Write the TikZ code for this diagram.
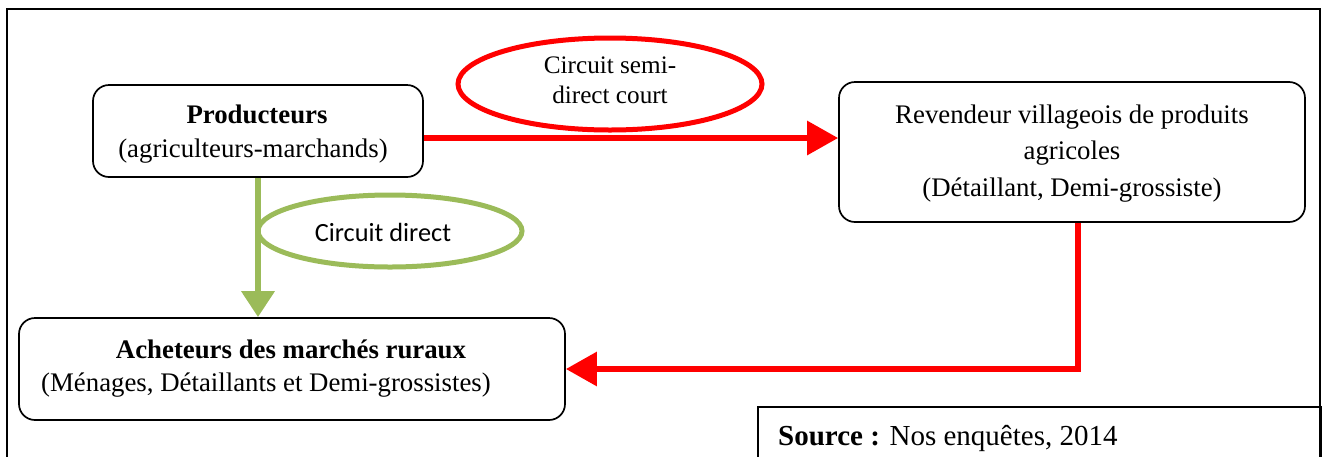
\documentclass[tikz,border=0pt]{standalone}
\usepackage{fontspec}
\setmainfont{Liberation Serif}
\newfontfamily\calibrifont{Carlito}
\usetikzlibrary{arrows.meta,shapes.geometric,calc}
\definecolor{flowred}{HTML}{FF0000}
\definecolor{flowgreen}{HTML}{9BBB59}

\begin{document}
\begin{tikzpicture}[x=1pt,y=-1pt,
  actor/.style={draw=black,line width=1.7pt,rounded corners=16pt,inner sep=0pt},
  boxtext/.style={font=\fontsize{26.8}{32}\selectfont,inner sep=0pt,anchor=base},
  tagtext/.style={font=\fontsize{25.2}{30}\selectfont,inner sep=0pt,anchor=base},
  redflow/.style={draw=flowred,line width=6pt,-{Triangle[length=31pt,width=33pt]}},
  greenflow/.style={draw=flowgreen,line width=6.5pt,-{Triangle[length=26pt,width=32pt]}},
  redtag/.style={ellipse,draw=flowred,line width=5pt,inner sep=0pt},
  greentag/.style={ellipse,draw=flowgreen,line width=5pt,inner sep=0pt}
]
\useasboundingbox (0,0) rectangle (1324,456);
\clip (0,0) rectangle (1324,456);

% outer frame (runs past the lower edge)
\draw[line width=1.8pt] (7,480) -- (7,9) -- (1320,9) -- (1320,480);

% actors
\node[actor,minimum width=330pt,minimum height=92pt] (prod) at (258,131) {};
\node[boxtext] (prodA) at (257,123) {\textbf{Producteurs}};
\node[boxtext] (prodB) at (253,157) {(agriculteurs-marchands)};

\node[actor,minimum width=466pt,minimum height=140pt] (rev) at (1072,152) {};
\node[boxtext] (revA) at (1072,123) {Revendeur villageois de produits};
\node[boxtext] (revB) at (1072,159) {agricoles};
\node[boxtext] (revC) at (1072,196) {(Détaillant, Demi-grossiste)};

\node[actor,minimum width=546pt,minimum height=102pt] (ach) at (292,369) {};
\node[boxtext] (achA) at (291,358) {\textbf{Acheteurs des marchés ruraux}};
\node[boxtext] (achB) at (266,391) {(Ménages, Détaillants et Demi-grossistes)};

% source box
\node[draw=black,line width=1.8pt,inner sep=0pt,anchor=north west,
      minimum width=563pt,minimum height=80pt] (src) at (757,406) {};
\node[font=\fontsize{29}{34}\selectfont,inner sep=0pt,anchor=base west]
  (srctext) at (778,445) {\textbf{Source :} Nos enquêtes, 2014};

% circuit labels
\node[redtag,minimum width=304pt,minimum height=92pt] (semi) at (610,84) {};
\node[tagtext] (semiA) at (610,73) {Circuit semi-};
\node[tagtext] (semiB) at (610,103) {direct court};

\node[greentag,minimum width=264pt,minimum height=72pt] (direct) at (390,231) {};
\node[font=\calibrifont\fontsize{26.3}{30}\selectfont,inner sep=0pt,anchor=base]
  (directA) at (383,241) {Circuit direct};

% flows
\coordinate (prodout) at ($(prod.east)+(0,7)$);
\draw[redflow] (prodout) -- (rev.west |- prodout);
\draw[greenflow] (prod.south) -- (prod.south |- ach.north);
\coordinate (revout) at ($(rev.south)+(6,0)$);
\draw[redflow] (revout) -- (revout |- ach.east) -- (ach.east);
\end{tikzpicture}
\end{document}
